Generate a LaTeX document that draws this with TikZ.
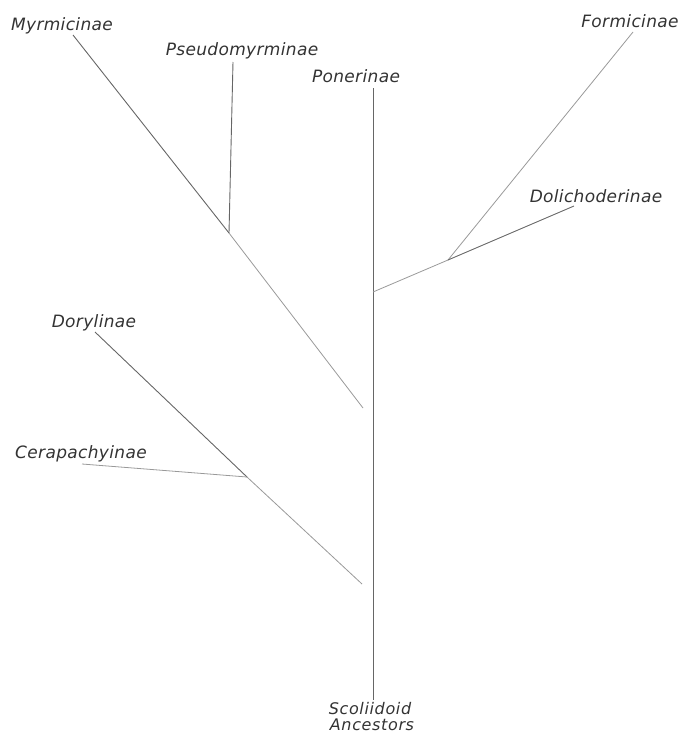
\documentclass[tikz,border=0pt]{standalone}
\usepackage{fontspec}
\setmainfont{DejaVu Sans}

\begin{document}
\begin{tikzpicture}[x=1pt, y=-1pt,
        taxon/.style={inner sep=0pt, anchor=base, text=black!80,
            font=\fontsize{17}{14}\selectfont\itshape\addfontfeature{LetterSpace=2}},
        branch/.style={black!60, line width=0.9pt},
        faint/.style={black!40, line width=0.8pt}]
        \useasboundingbox (0,0) rectangle (688,734);

        % Subfamily labels
        \node[taxon] (myr) at (62,30) {Myrmicinae};
        \node[taxon] (pse) at (242,55) {Pseudomyrminae};
        \node[taxon] (pon) at (356,82) {Ponerinae};
        \node[taxon] (frm) at (630,27) {Formicinae};
        \node[taxon] (dol) at (596,202) {Dolichoderinae};
        \node[taxon] (dor) at (94,327) {Dorylinae};
        \node[taxon] (cer) at (81,458) {Cerapachyinae};
        \node[taxon, font=\fontsize{16}{14}\selectfont\itshape\addfontfeature{LetterSpace=4}]
            (sco) at (370,714) {Scoliidoid};
        \node[taxon, font=\fontsize{16}{14}\selectfont\itshape\addfontfeature{LetterSpace=4}]
            (anc) at (372,730) {Ancestors};

        % Branch ends and forks
        \coordinate (top) at (373,88);
        \coordinate (root) at (373,700);
        \coordinate (myrend) at (73,35);
        \coordinate (myrfoot) at (363,408);
        \coordinate (psetop) at (233,62);
        \coordinate (psefork) at (229,233);
        \coordinate (frmend) at (633,32);
        \coordinate (dolend) at (574,206);
        \coordinate (dolfork) at (448,260);
        \coordinate (dolfoot) at (373,292);
        \coordinate (dorend) at (95,332);
        \coordinate (cerend) at (82,464);
        \coordinate (dorfork) at (247,477);
        \coordinate (dorfoot) at (362,584);

        % 1. Trunk
        \draw[branch] (top) -- (root);

        % 2. Myrmicine line
        \draw[branch] (myrend) -- (psefork);
        \draw[faint] (psefork) -- (myrfoot);
        \draw[branch] (psetop) -- (psefork);

        % 3. Formicine line
        \draw[faint] (frmend) -- (dolfork);
        \draw[branch] (dolend) -- (dolfork);
        \draw[faint] (dolfork) -- (dolfoot);

        % 4. Doryline line
        \draw[branch] (dorend) -- (dorfork);
        \draw[faint] (cerend) -- (dorfork);
        \draw[faint] (dorfork) -- (dorfoot);
\end{tikzpicture}
\end{document}
